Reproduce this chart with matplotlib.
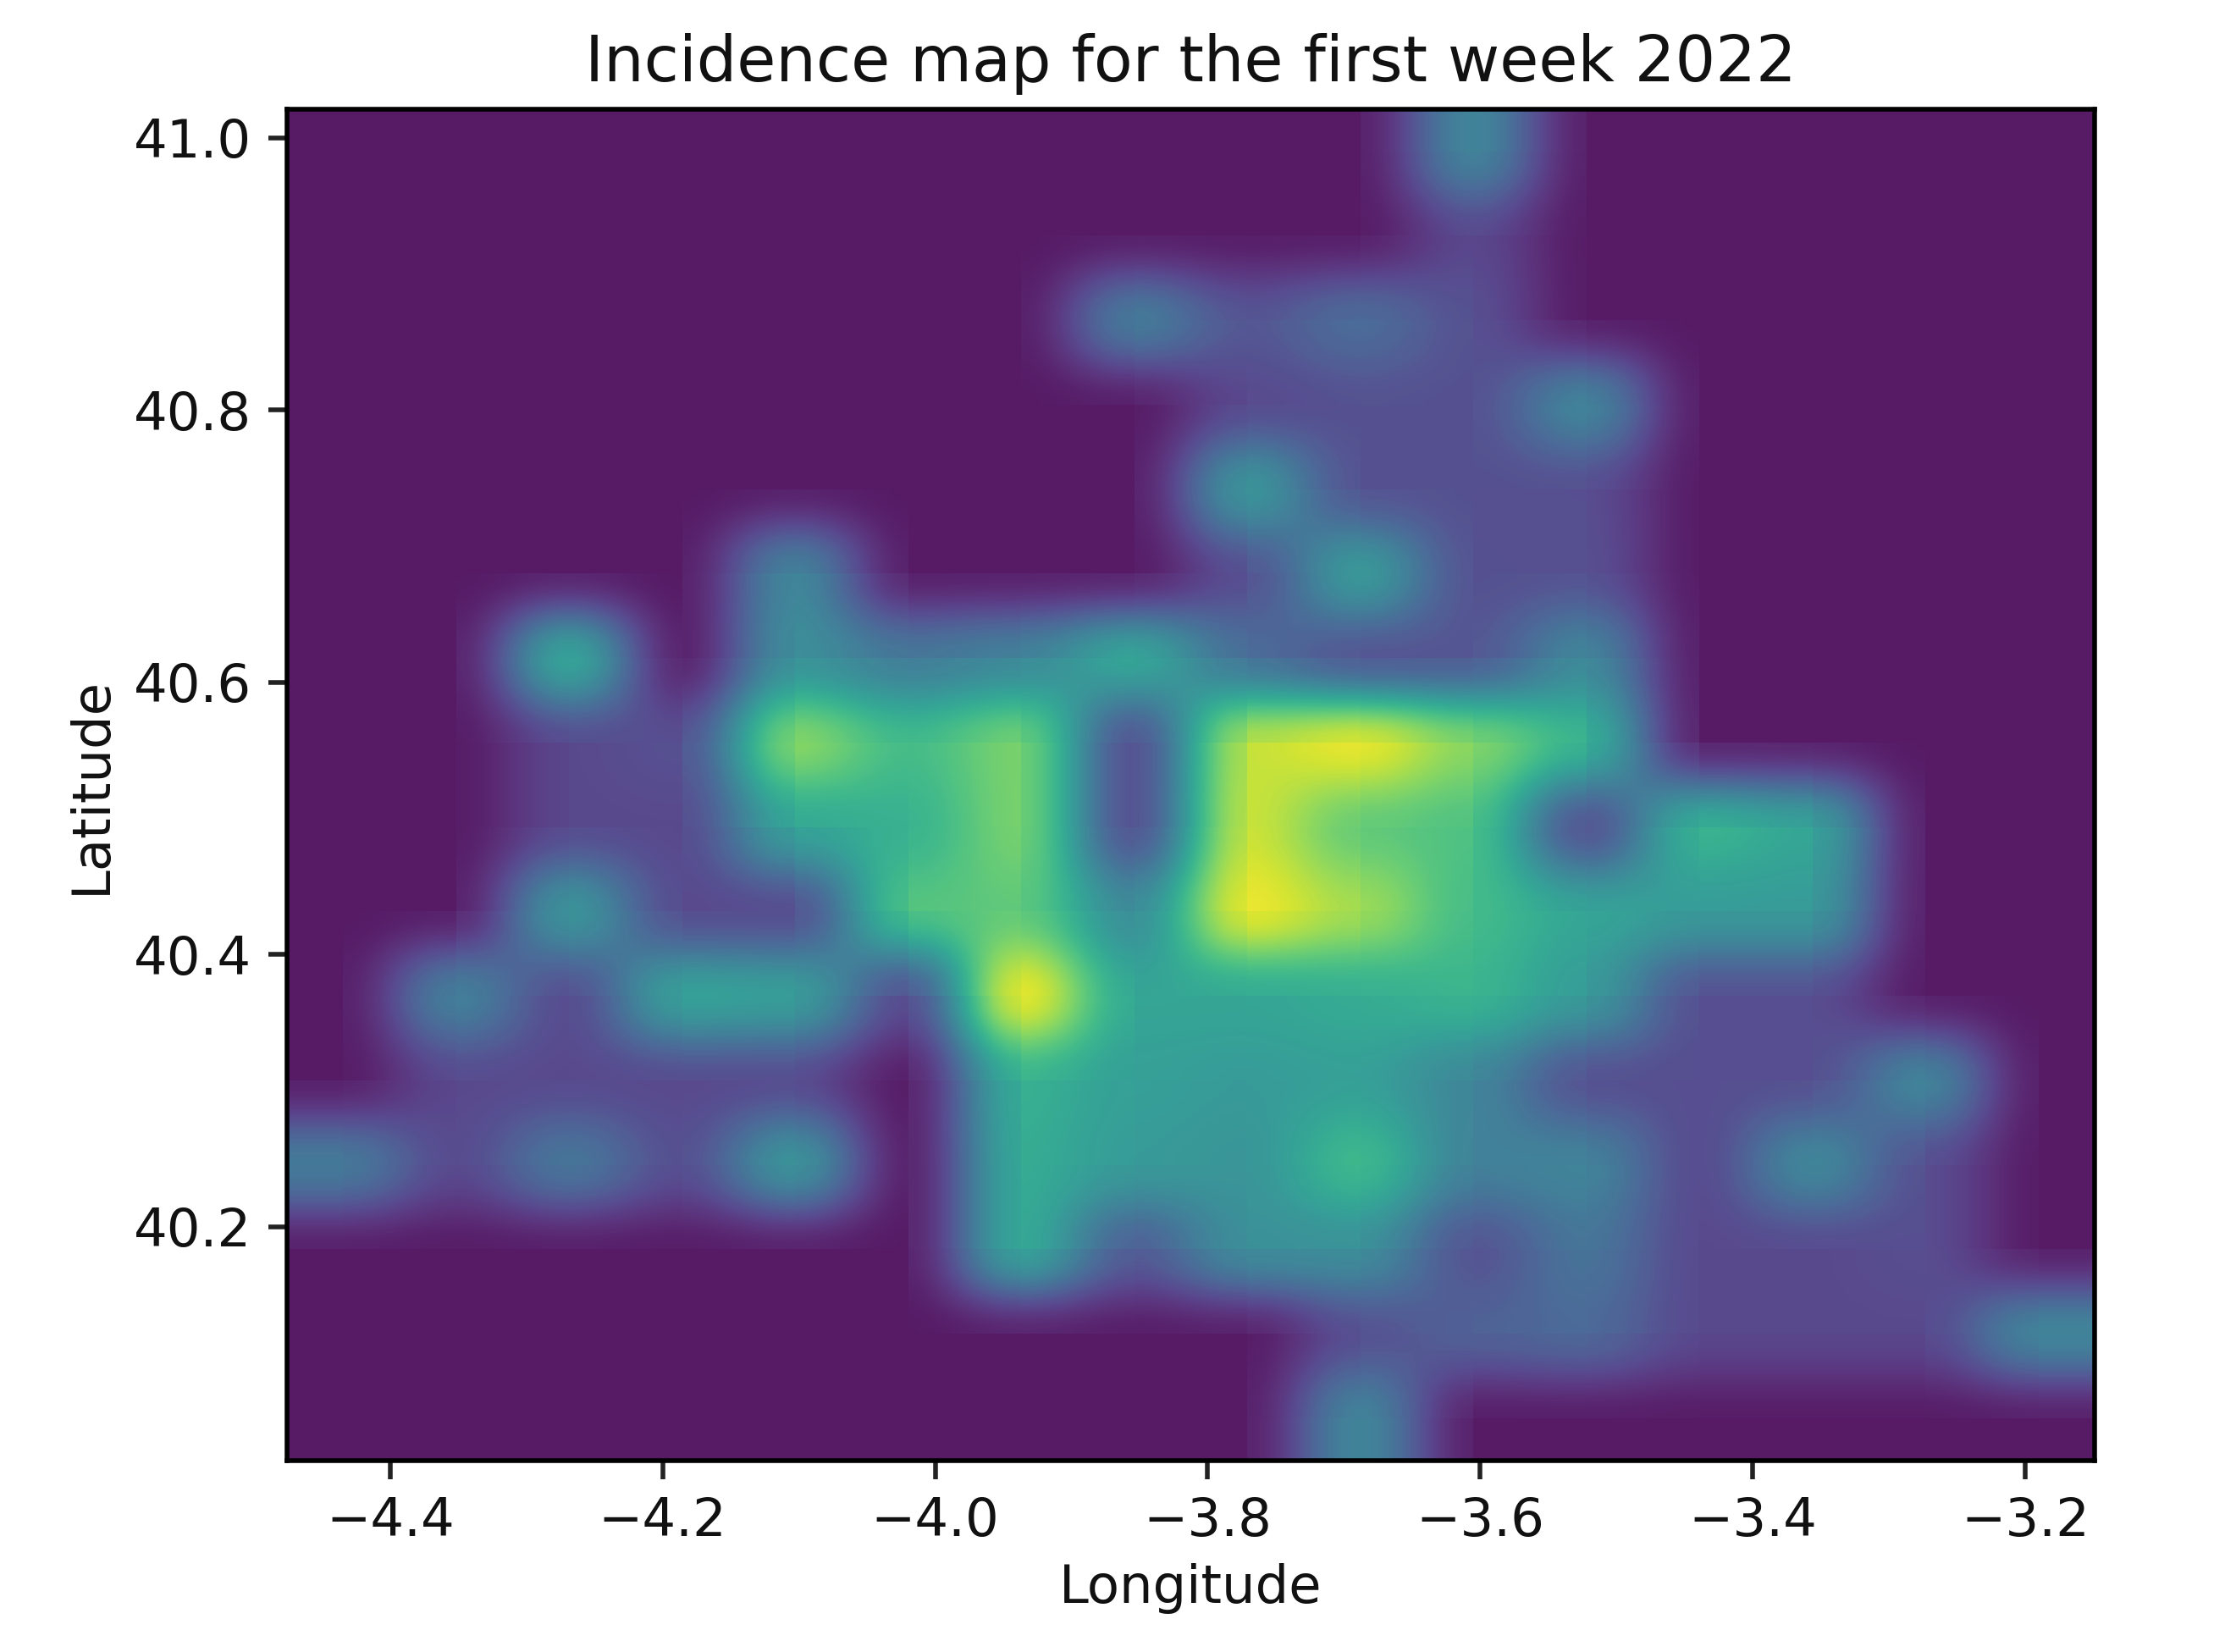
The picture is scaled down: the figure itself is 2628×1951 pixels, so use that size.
#!/usr/bin/env python3
import matplotlib
matplotlib.use("Agg")
import matplotlib.pyplot as plt
import numpy as np

# incidence grid, normalised, one list per latitude band (north to south)
lat_40_99 = [0, 0, 0, 0, 0, 0, 0, 0, 0, 0, .42, 0, 0, 0, 0, 0]
lat_40_93 = [0, 0, 0, 0, 0, 0, 0, 0, 0, 0, .15, 0, 0, 0, 0, 0]
lat_40_87 = [0, 0, 0, 0, 0, 0, 0, .38, .2, .3, .18, 0, 0, 0, 0, 0]
lat_40_81 = [0, 0, 0, 0, 0, 0, 0, 0, .15, .18, .18, .42, 0, 0, 0, 0]
lat_40_74 = [0, 0, 0, 0, 0, 0, 0, 0, .5, .18, .18, .17, 0, 0, 0, 0]
lat_40_68 = [0, 0, 0, 0, .42, 0, 0, 0, .17, .52, .18, .18, 0, 0, 0, 0]
lat_40_62 = [0, 0, .6, 0, .45, .35, .4, .58, .3, .18, .2, .42, 0, 0, 0, 0]
lat_40_56 = [0, 0, .15, .18, .82, .65, .78, .15, .9, .98, .8, .62, 0, 0, 0, 0]
lat_40_50 = [0, 0, .15, .15, .55, .6, .78, .15, .92, .72, .68, .15, .62, .55, 0, 0]
lat_40_43 = [0, 0, .5, .15, .15, .7, .72, .42, .98, .85, .65, .55, .5, .5, 0, 0]
lat_40_37 = [0, .4, .15, .55, .53, .15, 1.0, .55, .55, .58, .62, .5, .17, .17, 0, 0]
lat_40_31 = [0, .15, .15, .15, .15, 0, .6, .52, .5, .52, .4, .17, .17, .17, .42, 0]
lat_40_25 = [.37, .15, .35, .17, .5, 0, .58, .5, .47, .65, .38, .4, .15, .43, .17, 0]
lat_40_19 = [0, 0, 0, 0, 0, 0, .58, .22, .45, .45, .18, .33, .15, .15, .17, 0]
lat_40_12 = [0, 0, 0, 0, 0, 0, 0, 0, 0, .17, .25, .28, .15, .15, .15, .42]
lat_40_06 = [0, 0, 0, 0, 0, 0, 0, 0, 0, .42, 0, 0, 0, 0, 0, 0]

grid = np.array([
    lat_40_99, lat_40_93, lat_40_87, lat_40_81,
    lat_40_74, lat_40_68, lat_40_62, lat_40_56,
    lat_40_50, lat_40_43, lat_40_37, lat_40_31,
    lat_40_25, lat_40_19, lat_40_12, lat_40_06,
])

lon_min, lon_max = -4.476, -3.149
lat_min, lat_max = 40.028, 41.021
lon_ticks = [-4.4, -4.2, -4.0, -3.8, -3.6, -3.4, -3.2]
lat_ticks = [40.2, 40.4, 40.6, 40.8, 41.0]

fig = plt.figure(figsize=(26.28, 19.51), dpi=100)
ax = fig.add_axes([338.5 / 2628, 1 - 1725 / 1951, (2474 - 338.5) / 2628, (1725 - 129) / 1951])

ax.imshow(
    grid,
    cmap="viridis",
    interpolation="hamming",
    alpha=0.9,
    vmin=0,
    vmax=1,
    aspect="auto",
    extent=[lon_min, lon_max, lat_min, lat_max],
)

ax.set_xticks(lon_ticks)
ax.set_yticks(lat_ticks)
ax.tick_params(length=16, width=4, labelsize=45, pad=14, color="#222222", labelcolor="#111111")
for spine in ax.spines.values():
    spine.set_linewidth(4)

ax.set_xlabel("Longitude", fontsize=45, labelpad=14, color="#111111")
ax.set_ylabel("Latitude", fontsize=45, labelpad=14, color="#111111")
ax.set_title("Incidence map for the first week 2022", fontsize=54, pad=24, color="#111111")

fig.savefig("out.png", dpi=100)
